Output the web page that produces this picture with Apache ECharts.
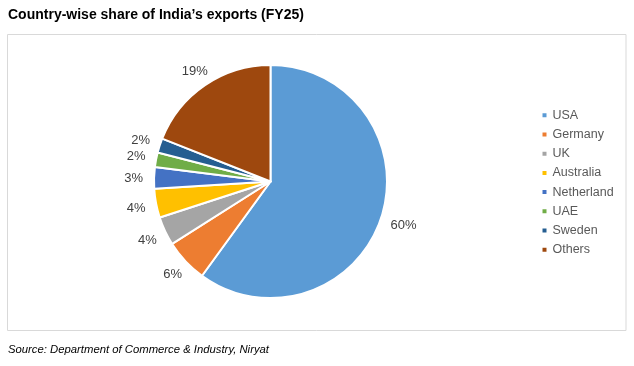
<!DOCTYPE html>
<html>
<head>
<meta charset="utf-8">
<script src="https://cdn.jsdelivr.net/npm/echarts@6/dist/echarts.min.js"></script>
<style>
html,body{margin:0;padding:0;background:#fff;}
#c{width:634px;height:366px;}
</style>
</head>
<body>
<div id="c"></div>
<script>
const categories = ['USA','Germany','UK','Australia','Netherland','UAE','Sweden','Others'];
const shares = [60, 6, 4, 4, 3, 2, 2, 19];
const colors = ['#5B9BD5','#ED7D31','#A5A5A5','#FFC000','#4472C4','#70AD47','#255E91','#9E480E'];
const titleText = 'Country-wise share of India\u2019s exports (FY25)';
const sourceText = 'Source: Department of Commerce & Industry, Niryat';

const CX = 270.5, CY = 181.5, R = 116.5;
const total = shares.reduce((a,b)=>a+b,0);
const midAngles = [];
(function(){ let c = 0; shares.forEach(v => { midAngles.push((c + v/2) / total * 2 * Math.PI); c += v; }); })();

const chart = echarts.init(document.getElementById('c'), null, {renderer:'canvas'});
chart.setOption({
  animation:false,
  color: colors,
  title: {
    text: titleText,
    left: 8, top: 8, padding: 0,
    textStyle: {fontFamily:'Liberation Sans, Arial, sans-serif', fontSize:14, fontWeight:'bold', color:'#000'}
  },
  graphic: [
    {type:'rect', shape:{x:7.5, y:34.5, width:618.5, height:296}, style:{fill:'none', stroke:'#D9D9D9', lineWidth:1}, silent:true},
    {type:'text', left:8, top:344.5, style:{text:sourceText, font:'italic 11.3px "Liberation Sans", Arial, sans-serif', fill:'#000'}}
  ],
  legend: {
    orient:'vertical',
    left: 540.5, top: 108.2, padding: 0,
    itemWidth:6, itemHeight:6, itemGap:5.23,
    icon:'rect',
    textStyle:{fontFamily:'Liberation Sans, Arial, sans-serif', fontSize:12.5, lineHeight:14, color:'#595959'},
    data: categories
  },
  series: [{
    type:'pie',
    center:[CX, CY],
    radius:[0, R],
    startAngle:90,
    clockwise:true,
    avoidLabelOverlap:false,
    itemStyle:{borderColor:'#fff', borderWidth:2},
    label:{show:true, position:'outside', formatter: p => p.value + '%',
      fontFamily:'Liberation Sans, Arial, sans-serif', fontSize:13, color:'#404040'},
    labelLine:{show:false, length:8, length2:0},
    labelLayout: function (p) {
      const a = midAngles[p.dataIndex];
      const dx = Math.sin(a), dy = -Math.cos(a);
      const d = R + 11 + Math.abs(dx) * p.labelRect.width / 2;
      return {x: CX + dx * d, y: CY + dy * d + 1, align:'center', verticalAlign:'middle'};
    },
    data: categories.map((n,i)=>({name:n, value:shares[i]}))
  }]
});
</script>
</body>
</html>
